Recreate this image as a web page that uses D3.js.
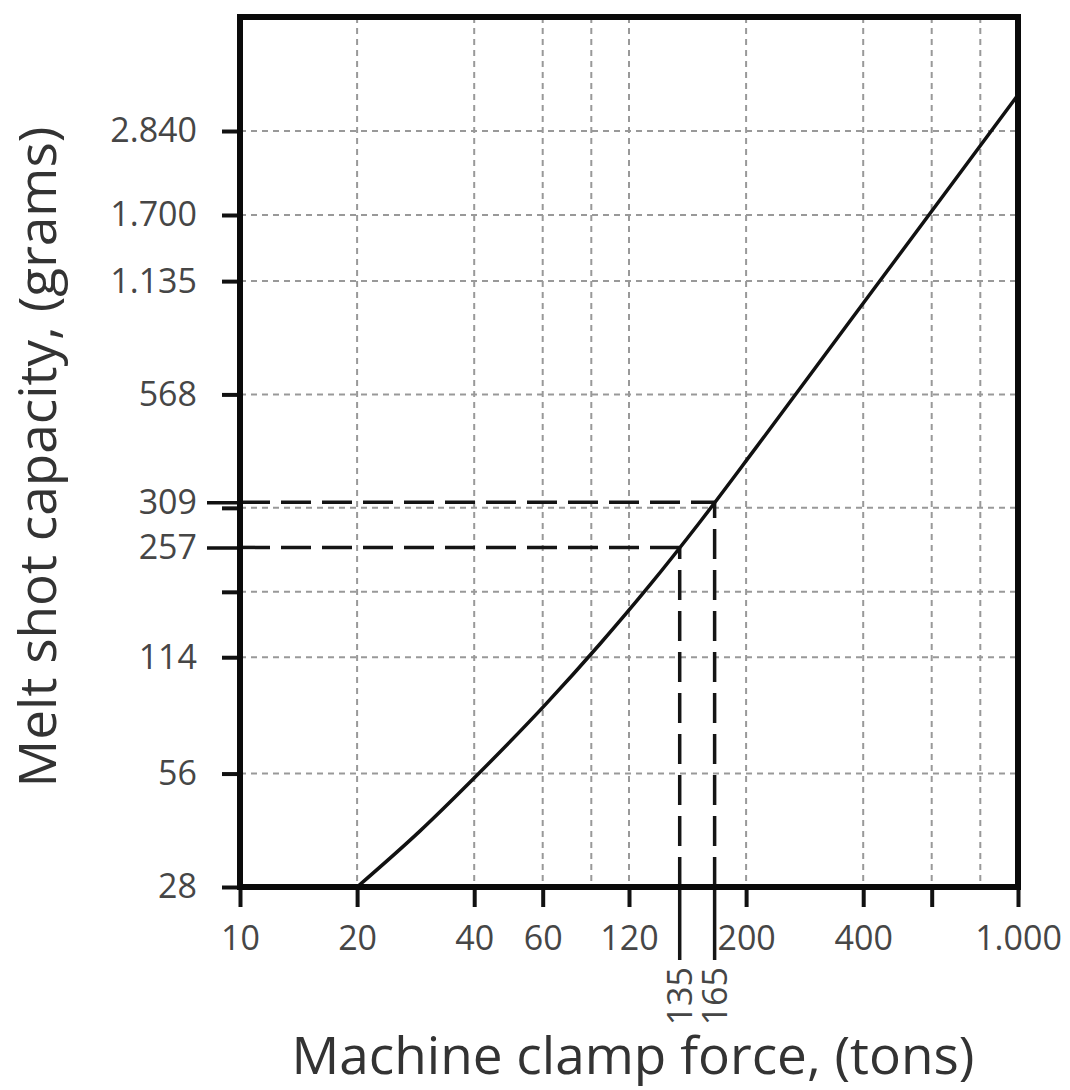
<!DOCTYPE html>
<html>
<head>
<meta charset="utf-8">
<script src="https://cdn.jsdelivr.net/npm/d3@7"></script>
<style>
  html, body { margin: 0; padding: 0; background: #fff; }
  svg { display: block; }
  text { font-family: "Open Sans", "Noto Sans", sans-serif; }
</style>
</head>
<body>
<svg id="chart" width="1070" height="1090"></svg>
<script>
// ---- data ----
const clampForce = [20, 29, 40, 61.2, 84.2, 113.2, 152.2, 210.9, 370, 668.8, 1000];          // tons
const shotCapacity = [28, 39.4, 54.5, 85.7, 123.6, 177.3, 260.5, 407.1, 889.8, 2023, 3541];  // grams

const xTickValues = [10, 20, 40, 60, 100, 200, 400, 600, 1000];
const xTickLabels = ["10", "20", "40", "60", "120", "200", "400", "", "1.000"];
const xGridValues = [20, 40, 60, 80, 100, 200, 400, 600, 800];

const yTickValues = [28, 56, 114, 170, 284, 568, 1135, 1700, 2840];
const yTickLabels = ["28", "56", "114", "", "", "568", "1.135", "1.700", "2.840"];

const guideForce = [135, 166];
const guideForceLabels = ["135", "165"];
const guideCapacity = [223, 294];
const guideCapacityLabels = ["257", "309"];

const xDomain = [10, 1000];
const yDomain = [28, 5700];

const xTitle = "Machine clamp force, (tons)";
const yTitle = "Melt shot capacity, (grams)";

// ---- layout ----
const mLeft = 240, mRight = 1018, mTop = 17, mBottom = 887;

const svg = d3.select("#chart");
const x = d3.scaleLog().domain(xDomain).range([mLeft, mRight]);
const y = d3.scaleLog().domain(yDomain).range([mBottom, mTop]);

// gridlines
const grid = svg.append("g").attr("stroke", "#999").attr("stroke-width", 2)
  .attr("stroke-dasharray", "6,5").attr("fill", "none");
grid.selectAll("line.v").data(xGridValues).join("line").attr("class", "v")
  .attr("x1", d => x(d)).attr("x2", d => x(d)).attr("y1", mTop).attr("y2", mBottom);
grid.selectAll("line.h").data(yTickValues.filter(d => d > yDomain[0])).join("line").attr("class", "h")
  .attr("x1", mLeft).attr("x2", mRight).attr("y1", d => y(d)).attr("y2", d => y(d));

// guide lines (dashed inside, solid outside the frame)
const guides = guideForce.map((f, i) => ({ f, c: guideCapacity[i], fl: guideForceLabels[i], cl: guideCapacityLabels[i] }));
const gg = svg.append("g").attr("stroke", "#151515").attr("stroke-width", 3.5).attr("fill", "none");
gg.selectAll("line.gh").data(guides).join("line").attr("class", "gh")
  .attr("stroke-dasharray", "30,11")
  .attr("x1", mLeft).attr("x2", d => x(d.f)).attr("y1", d => y(d.c)).attr("y2", d => y(d.c));
gg.selectAll("line.gv").data(guides).join("line").attr("class", "gv")
  .attr("stroke-dasharray", "30,11")
  .attr("x1", d => x(d.f)).attr("x2", d => x(d.f)).attr("y1", mBottom).attr("y2", d => y(d.c));
gg.selectAll("line.gvs").data(guides).join("line").attr("class", "gvs")
  .attr("x1", d => x(d.f)).attr("x2", d => x(d.f)).attr("y1", mBottom).attr("y2", mBottom + 73);

// curve
const line = d3.line().x(d => x(d[0])).y(d => y(d[1])).curve(d3.curveMonotoneX);
svg.append("path").datum(clampForce.map((f, i) => [f, shotCapacity[i]]))
  .attr("d", line).attr("fill", "none").attr("stroke", "#111").attr("stroke-width", 3.5);

// axes
const tickFont = 34, tickColor = "#464646";
const xAxis = svg.append("g").attr("transform", `translate(0,${mBottom})`)
  .call(d3.axisBottom(x).tickValues(xTickValues).tickSizeInner(20).tickSizeOuter(0).tickPadding(19)
    .tickFormat((d, i) => xTickLabels[i]));
const yAxis = svg.append("g").attr("transform", `translate(${mLeft},0)`)
  .call(d3.axisLeft(y).tickValues(yTickValues).tickSizeInner(18).tickSizeOuter(0).tickPadding(25)
    .tickFormat((d, i) => yTickLabels[i]));
const yGuideAxis = svg.append("g").attr("transform", `translate(${mLeft},0)`)
  .call(d3.axisLeft(y).tickValues(guideCapacity).tickSizeInner(33).tickSizeOuter(0).tickPadding(10)
    .tickFormat((d, i) => guideCapacityLabels[i]));
[xAxis, yAxis, yGuideAxis].forEach(a => {
  a.select(".domain").remove();
  a.selectAll(".tick line").attr("stroke", "#111").attr("stroke-width", 4);
  a.selectAll(".tick text").attr("font-size", tickFont).attr("fill", tickColor)
    .attr("font-family", '"Open Sans", sans-serif');
});
yGuideAxis.selectAll(".tick line").attr("stroke-width", 3.5);

// rotated guide labels under the x axis
svg.append("g").selectAll("text").data(guides).join("text")
  .attr("transform", d => `translate(${x(d.f)},${mBottom + 80}) rotate(-90)`)
  .attr("text-anchor", "end").attr("dy", "0.35em")
  .attr("font-size", tickFont).attr("fill", tickColor)
  .text(d => d.fl);

// frame
svg.append("rect").attr("x", mLeft).attr("y", mTop).attr("width", mRight - mLeft).attr("height", mBottom - mTop)
  .attr("fill", "none").attr("stroke", "#0a0a0a").attr("stroke-width", 6);

// titles
svg.append("text").attr("x", 633).attr("y", 1074).attr("text-anchor", "middle")
  .attr("font-size", 51).attr("fill", "#333")
  .attr("textLength", 683).attr("lengthAdjust", "spacingAndGlyphs")
  .text(xTitle);
svg.append("text").attr("transform", "translate(56,457) rotate(-90)").attr("text-anchor", "middle")
  .attr("font-size", 51).attr("fill", "#333")
  .attr("textLength", 661).attr("lengthAdjust", "spacingAndGlyphs")
  .text(yTitle);
</script>
</body>
</html>
